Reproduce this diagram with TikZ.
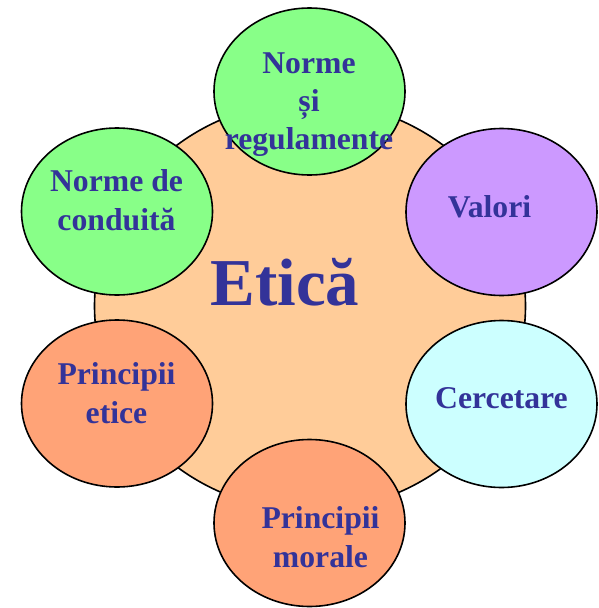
\documentclass[tikz,border=0pt]{standalone}
\usepackage{fontspec}
\setmainfont{Liberation Serif}
\usetikzlibrary{shapes.geometric}
\definecolor{txtblue}{RGB}{51,51,153}
\definecolor{peach}{RGB}{255,204,153}
\definecolor{lgreen}{RGB}{136,255,136}
\definecolor{lpurple}{RGB}{204,153,255}
\definecolor{lcyan}{RGB}{204,255,255}
\definecolor{salmon}{RGB}{255,163,119}
\begin{document}
\begin{tikzpicture}[x=1pt,y=-1pt,
  bub/.style={ellipse, draw=black, line width=1.6pt, minimum width=191pt, minimum height=167pt, inner sep=0pt},
  lbl/.style={text=txtblue, font=\fontsize{31.7}{38.3}\selectfont\bfseries, align=center, inner sep=0pt}]
\useasboundingbox (0,0) rectangle (599,608);
\node[ellipse, draw=black, line width=1.6pt, fill=peach, minimum width=431pt, minimum height=409pt, inner sep=0pt] (big) at (310,306) {};
\node[bub, fill=lgreen] (top) at (309.5,91.5) {};
\node[bub, fill=lgreen] (tl) at (117,211.5) {};
\node[bub, fill=lpurple] (tr) at (501.5,212) {};
\node[bub, fill=lcyan] (br) at (501.5,404) {};
\node[bub, fill=salmon] (bl) at (117,403.5) {};
\node[bub, fill=salmon] (bot) at (309.5,523) {};
\node[text=txtblue, font=\fontsize{67}{70}\selectfont\bfseries, inner sep=0pt, anchor=base] (etica) at (285,305) {Etică};
\node[lbl] (ltop) at (309,103.8) {\strut Norme\\\strut și\\\strut regulamente};
\node[lbl] (ltl) at (116.5,203.3) {\strut Norme de\\\strut conduită};
\node[lbl, anchor=base] (ltr) at (489.5,217) {Valori};
\node[lbl, anchor=base] (lbr) at (501.5,408) {Cercetare};
\node[lbl] (lbl) at (116.5,396.3) {\strut Principii\\\strut etice};
\node[lbl] (lbot) at (320.5,540.3) {\strut Principii\\\strut morale};
\end{tikzpicture}
\end{document}
